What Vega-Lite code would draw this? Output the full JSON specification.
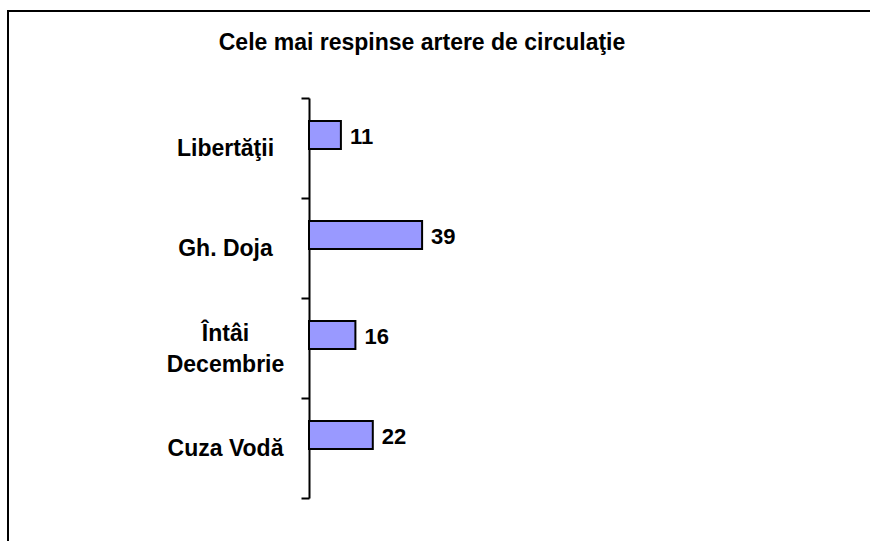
{
  "$schema": "https://vega.github.io/schema/vega-lite/v6.json",
  "autosize": {"type": "none"},
  "padding": {"left": 8, "top": 11, "right": 0, "bottom": 0},
  "width": 862,
  "height": 530,
  "background": "white",
  "title": {
    "text": "Cele mai respinse artere de circulaţie",
    "anchor": "middle",
    "frame": "group",
    "orient": "top",
    "baseline": "alphabetic",
    "offset": 0,
    "dy": 73,
    "dx": -17,
    "font": "Liberation Sans",
    "fontSize": 23,
    "fontWeight": "bold",
    "color": "black"
  },
  "data": {
    "values": [
      {"strada": "Libertăţii", "valoare": 11},
      {"strada": "Gh. Doja", "valoare": 39},
      {"strada": "Întâi Decembrie", "valoare": 16},
      {"strada": "Cuza Vodă", "valoare": 22}
    ]
  },
  "encoding": {
    "y": {
      "field": "strada",
      "type": "nominal",
      "sort": null,
      "scale": {"range": [87, 487], "paddingInner": 0, "paddingOuter": 0},
      "axis": {
        "title": null,
        "offset": -301,
        "domainColor": "black",
        "domainWidth": 2,
        "tickColor": "black",
        "tickWidth": 2,
        "tickSize": 8,
        "tickBand": "extent",
        "labelAlign": "center",
        "labelBaseline": "middle",
        "labelPadding": 76,
        "labelOffset": {"condition": {"test": "datum.value == 'Întâi Decembrie'", "value": -15}, "value": 0},
        "labelFont": "Liberation Sans",
        "labelFontSize": 23,
        "labelFontWeight": "bold",
        "labelColor": "black",
        "labelLineHeight": 31,
        "labelLimit": 300,
        "labelExpr": "datum.label == 'Întâi Decembrie' ? ['Întâi', 'Decembrie'] : datum.label"
      }
    },
    "x": {
      "field": "valoare",
      "type": "quantitative",
      "scale": {"domain": [0, 100], "range": [301, 591], "nice": false, "zero": true},
      "axis": null
    }
  },
  "layer": [
    {
      "mark": {"type": "bar", "height": 28, "yOffset": -13, "fill": "#9999FF", "stroke": "black", "strokeWidth": 2}
    },
    {
      "mark": {"type": "text", "align": "left", "baseline": "middle", "dx": 9, "yOffset": -11, "font": "Liberation Sans", "fontSize": 22, "fontWeight": "bold", "color": "black"},
      "encoding": {"text": {"field": "valoare", "type": "quantitative"}}
    }
  ],
  "config": {
    "view": {"stroke": "black", "strokeWidth": 2, "strokeDash": [862, 1392, 531, 0]}
  }
}
